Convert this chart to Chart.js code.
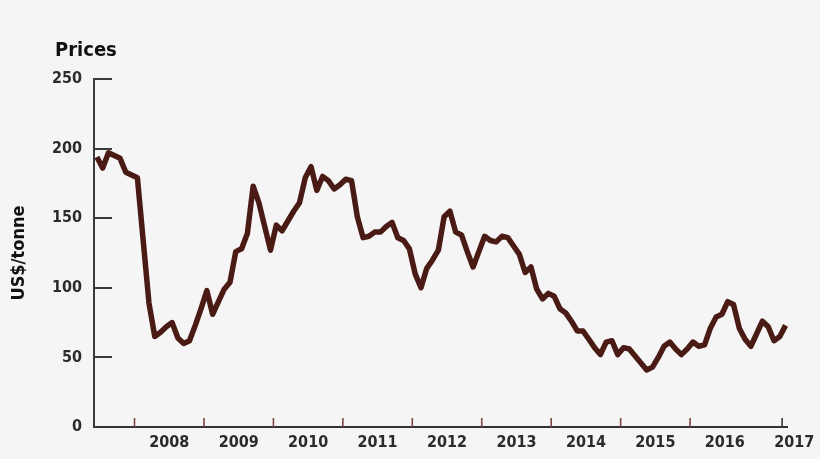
<!DOCTYPE html>
<html>
<head>
<meta charset="utf-8">
<script src="https://cdn.jsdelivr.net/npm/chart.js@4.4.1/dist/chart.umd.min.js"></script>
<style>
  html, body { margin: 0; padding: 0; background: #f5f5f5; }
  #contenedor { width: 820px; height: 459px; position: relative; }
</style>
</head>
<body>
<div id="contenedor"><canvas id="graficaPrecios"></canvas></div>
<script>
// Fuente condensada y negrita, parecida a la del original
const FUENTE = "'Liberation Sans Narrow', 'DejaVu Sans Condensed', 'Arial Narrow', sans-serif";

// Serie mensual: empieza en junio de 2007
const inicioSerie = { anio: 2007, mes: 6 };

// Precios mensuales (US$/tonne)
const precios = [
  194, 186, 197, 195, 193, 183, 181, 179, 134, 89,
  65, 68, 72, 75, 64, 60, 62, 73, 85, 98,
  81, 90, 99, 104, 126, 128, 139, 173, 161, 144,
  127, 145, 141, 148, 155, 161, 179, 187, 170, 180,
  177, 171, 174, 178, 177, 151, 136, 137, 140, 140,
  144, 147, 136, 134, 128, 110, 100, 114, 120, 127,
  151, 155, 140, 138, 126, 115, 126, 137, 134, 133,
  137, 136, 130, 124, 111, 115, 99, 92, 96, 94,
  85, 82, 76, 69, 69, 63, 57, 52, 61, 62,
  52, 57, 56, 51, 46, 41, 43, 50, 58, 61,
  56, 52, 56, 61, 58, 59, 71, 79, 81, 90,
  88, 71, 63, 58, 67, 76, 72, 62, 65, 73
];

// Etiquetas de los años en el eje X
const anios = ['2008', '2009', '2010', '2011', '2012', '2013', '2014', '2015', '2016', '2017'];

// Eje Y
const yMin = 0;
const yMax = 250;
const yPaso = 50;

// Índice del primer enero dentro de la serie
const primerEnero = (12 - inicioSerie.mes + 1) % 12;
// Límites de año (entre diciembre y enero)
const limitesAnio = anios.slice(0, -1).map((a, k) => primerEnero - 0.5 + 12 * k);
// Centro de cada año para la etiqueta
const centrosAnio = anios.map((a, k) => primerEnero - 0.5 + 12 * k + 6);

const datosLinea = precios.map((v, i) => ({ x: i, y: v }));

// Marcas cortas hacia dentro de la gráfica, como en el original
const marcasInternas = {
  id: 'marcasInternas',
  afterDatasetsDraw(chart) {
    const ctx = chart.ctx;
    const area = chart.chartArea;
    const ejeX = chart.scales.x;
    const ejeY = chart.scales.y;
    ctx.save();
    ctx.lineCap = 'butt';

    // Marcas del eje Y
    ctx.strokeStyle = '#3a3a3a';
    ctx.lineWidth = 2;
    ejeY.ticks.forEach(t => {
      if (t.value === yMin) return;
      const y = Math.round(ejeY.getPixelForValue(t.value));
      ctx.beginPath();
      ctx.moveTo(area.left, y);
      ctx.lineTo(area.left + 18, y);
      ctx.stroke();
    });

    // Marcas de cambio de año en el eje X
    ctx.strokeStyle = '#7a4741';
    ctx.lineWidth = 1.6;
    limitesAnio.forEach(v => {
      const x = ejeX.getPixelForValue(v);
      ctx.beginPath();
      ctx.moveTo(x, area.bottom);
      ctx.lineTo(x, area.bottom - 9);
      ctx.stroke();
    });

    // Marca final
    ctx.strokeStyle = '#3a3a3a';
    const xFinal = ejeX.getPixelForValue(precios.length - 1.6);
    ctx.beginPath();
    ctx.moveTo(xFinal, area.bottom);
    ctx.lineTo(xFinal, area.bottom - 9);
    ctx.stroke();

    // Título "Prices"
    ctx.fillStyle = '#111111';
    ctx.font = "bold 20px " + FUENTE;
    ctx.textAlign = 'left';
    ctx.textBaseline = 'alphabetic';
    ctx.fillText('Prices', 55, 56);
    ctx.restore();
  }
};

const ctx = document.getElementById('graficaPrecios').getContext('2d');

window.myChart = new Chart(ctx, {
  type: 'line',
  data: {
    datasets: [{
      label: 'Prices',
      data: datosLinea,
      borderColor: '#4a1b15',
      borderWidth: 5.5,
      borderJoinStyle: 'round',
      borderCapStyle: 'butt',
      pointRadius: 0,
      tension: 0,
      fill: false
    }]
  },
  options: {
    responsive: true,
    maintainAspectRatio: false,
    animation: false,
    layout: { padding: { left: 0, right: 32, top: 79, bottom: 0 } },
    plugins: {
      legend: { display: false },
      tooltip: { enabled: false },
      title: { display: false }
    },
    scales: {
      x: {
        type: 'linear',
        min: -0.5,
        max: precios.length - 0.6,
        afterBuildTicks: scale => {
          scale.ticks = centrosAnio.map(v => ({ value: v }));
        },
        afterFit: scale => { scale.height = 32; },
        ticks: {
          autoSkip: false,
          maxRotation: 0,
          padding: 6,
          color: '#2b2b2b',
          font: { family: FUENTE, size: 16, weight: 'bold' },
          callback: (value, index) => anios[index]
        },
        grid: { drawOnChartArea: false, drawTicks: false },
        border: { display: true, color: '#333333', width: 2 }
      },
      y: {
        min: yMin,
        max: yMax,
        afterFit: scale => { scale.width = 94; },
        ticks: {
          stepSize: yPaso,
          padding: 12,
          color: '#2b2b2b',
          font: { family: FUENTE, size: 16, weight: 'bold' }
        },
        grid: { drawOnChartArea: false, drawTicks: false },
        border: { display: true, color: '#3a3a3a', width: 2 },
        title: {
          display: true,
          text: 'US$/tonne',
          color: '#111111',
          padding: { top: 9, bottom: 0 },
          font: { family: FUENTE, size: 18, weight: 'bold' }
        }
      }
    }
  },
  plugins: [marcasInternas]
});
</script>
</body>
</html>
